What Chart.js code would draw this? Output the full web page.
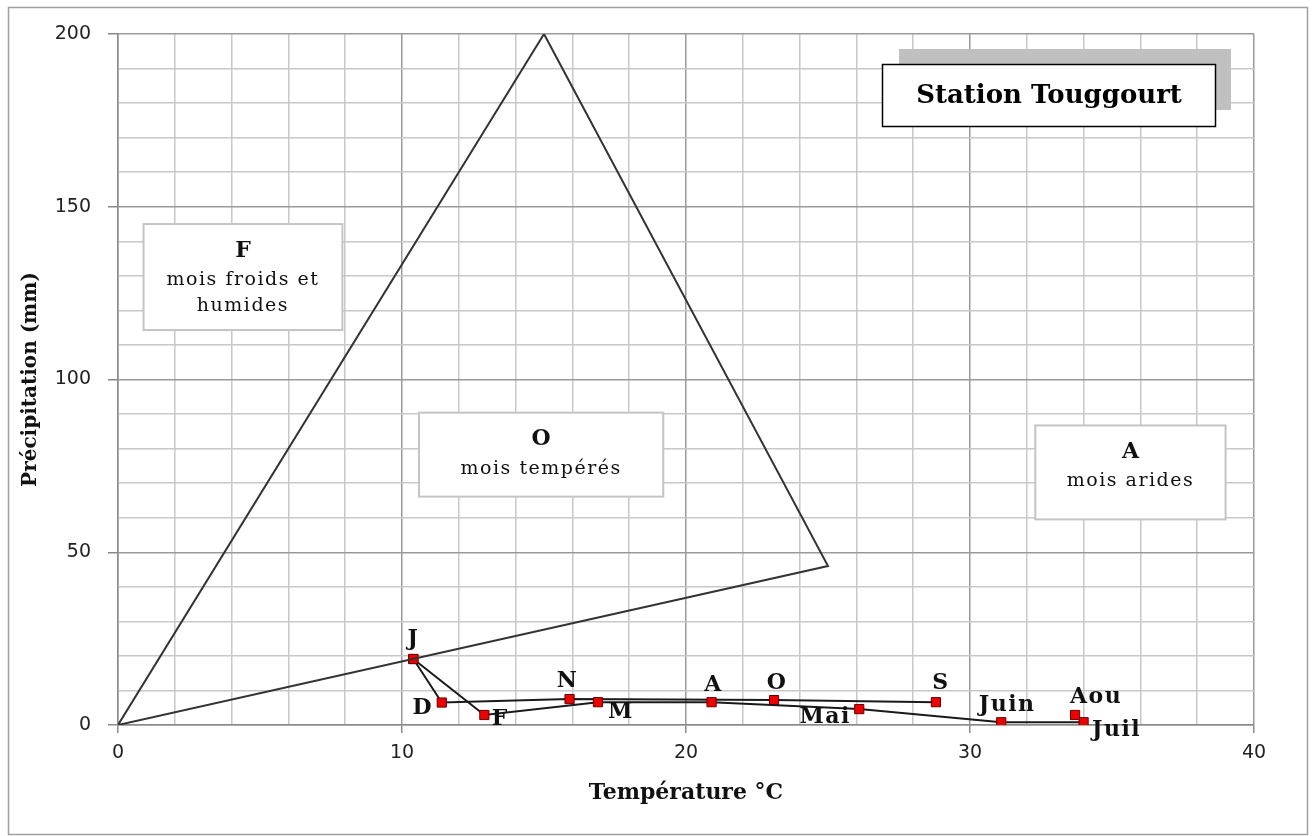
<!DOCTYPE html>
<html>
<head>
<meta charset="utf-8">
<script src="https://cdn.jsdelivr.net/npm/chart.js@4.4.0/dist/chart.umd.min.js"></script>
<style>
  html, body { margin: 0; padding: 0; background: #fff; }
  #wrap { width: 1316px; height: 836px; position: relative; }
</style>
</head>
<body>
<div id="wrap"><canvas id="climChart" width="1316" height="836"></canvas></div>
<script>
// monthly means, Touggourt station
var months = ['J', 'F', 'M', 'A', 'Mai', 'Juin', 'Juil', 'Aou', 'S', 'O', 'N', 'D'];
var temps = [10.4, 12.9, 16.9, 20.9, 26.1, 31.1, 34.0, 33.7, 28.8, 23.1, 15.9, 11.4];
var precip = [19.1, 2.9, 6.6, 6.6, 4.6, 0.8, 0.8, 2.9, 6.6, 7.2, 7.5, 6.5];

// zone limits (triangle of temperate months)
var triX = [0, 15, 25, 0];
var triY = [0, 200, 46, 0];

var xTicks = [0, 10, 20, 30, 40];
var yTicks = [0, 50, 100, 150, 200];

function pts(idx) {
    return idx.map(function (i) { return { x: temps[i], y: precip[i] }; });
}

// J..Aou, then S..D closing back on J
var pathA = pts([0, 1, 2, 3, 4, 5, 6, 7]);
var pathB = pts([8, 9, 10, 11, 0]);
var triangle = triX.map(function (x, i) { return { x: x, y: triY[i] }; });

var serif = '"DejaVu Serif", "Liberation Serif", serif';
var sans = '"DejaVu Sans", sans-serif';

// label offsets around each marker (px)
var labelOffset = {
    'J': [0, -20], 'F': [16, 4], 'M': [23, 10], 'A': [2, -17], 'Mai': [-34, 8],
    'Juin': [6, -17], 'Juil': [33, 8], 'Aou': [21, -18], 'S': [5, -19],
    'O': [3, -17], 'N': [-2, -18], 'D': [-19, 6]
};

var boxes = [
    { x0: 0.9, x1: 7.9, y0: 145, y1: 114.3, head: 'F', lines: ['mois froids et', 'humides'] },
    { x0: 10.6, x1: 19.2, y0: 90.4, y1: 66.1, head: 'O', lines: ['mois tempérés'] },
    { x0: 32.3, x1: 39.0, y0: 86.7, y1: 59.5, head: 'A', lines: ['mois arides'] }
];

var decorPlugin = {
    id: 'decor',
    beforeDraw: function (chart) {
        var c = chart.ctx;
        c.save();
        c.fillStyle = '#fff';
        c.fillRect(0, 0, chart.width, chart.height);
        c.strokeStyle = '#a0a0a0';
        c.lineWidth = 1.5;
        c.strokeRect(8.5, 7.5, 1299, 827);
        c.restore();
    },
    beforeDatasetsDraw: function (chart) {
        var c = chart.ctx;
        var xs = chart.scales.x, ys = chart.scales.y;
        c.save();
        boxes.forEach(function (b) {
            var l = xs.getPixelForValue(b.x0), r = xs.getPixelForValue(b.x1);
            var t = ys.getPixelForValue(b.y0), btm = ys.getPixelForValue(b.y1);
            c.fillStyle = '#fff';
            c.fillRect(l, t, r - l, btm - t);
            c.strokeStyle = '#c4c4c4';
            c.lineWidth = 2;
            c.strokeRect(l, t, r - l, btm - t);
            var cx = (l + r) / 2;
            c.fillStyle = '#111';
            c.textAlign = 'center';
            c.textBaseline = 'middle';
            c.letterSpacing = '0px';
            c.font = 'bold 22px ' + serif;
            c.fillText(b.head, cx, t + 27);
            c.font = '19px ' + serif;
            c.letterSpacing = '1.5px';
            b.lines.forEach(function (ln, i) {
                c.fillText(ln, cx, t + 56 + i * 26);
            });
            c.letterSpacing = '0px';
        });

        // station title with its shadow
        c.fillStyle = '#c0c0c0';
        c.fillRect(899, 49, 332, 61);
        c.fillStyle = '#fff';
        c.fillRect(882, 64, 333, 62);
        c.strokeStyle = '#000';
        c.lineWidth = 1.5;
        c.strokeRect(882.5, 64.5, 333, 62);
        c.fillStyle = '#000';
        c.font = 'bold 26px ' + serif;
        c.textAlign = 'center';
        c.textBaseline = 'middle';
        c.fillText('Station Touggourt', 1049, 96);
        c.restore();
    },
    afterDatasetsDraw: function (chart) {
        var c = chart.ctx;
        var xs = chart.scales.x, ys = chart.scales.y;
        c.save();
        c.fillStyle = '#111';
        c.font = 'bold 22px ' + serif;
        c.letterSpacing = '1.5px';
        c.textAlign = 'center';
        c.textBaseline = 'middle';
        months.forEach(function (m, i) {
            var off = labelOffset[m];
            c.fillText(m, xs.getPixelForValue(temps[i]) + off[0], ys.getPixelForValue(precip[i]) + off[1]);
        });
        c.letterSpacing = '0px';
        c.restore();
    }
};

var climStyle = {
    showLine: true,
    borderColor: '#1a1a1a',
    borderWidth: 2,
    pointStyle: 'rect',
    pointRadius: 6.5,
    pointBackgroundColor: '#ee0000',
    pointBorderColor: '#660000',
    pointBorderWidth: 1,
    tension: 0
};

var ctx = document.getElementById('climChart').getContext('2d');
var chart = new Chart(ctx, {
    type: 'scatter',
    data: {
        datasets: [
            {
                label: 'zones',
                data: triangle,
                showLine: true,
                borderColor: '#333',
                borderWidth: 2,
                pointRadius: 0,
                tension: 0
            },
            Object.assign({ label: 'climat', data: pathA }, climStyle),
            Object.assign({ label: 'climat2', data: pathB }, climStyle)
        ]
    },
    options: {
        responsive: false,
        animation: false,
        events: [],
        layout: { padding: { top: 34, right: 62, left: 10, bottom: 0 } },
        plugins: {
            legend: { display: false },
            tooltip: { enabled: false }
        },
        scales: {
            x: {
                type: 'linear',
                min: 0,
                max: 40,
                afterFit: function (s) { s.height = 111; },
                ticks: {
                    stepSize: 2,
                    autoSkip: false,
                    maxRotation: 0,
                    padding: 9,
                    color: '#222',
                    font: { family: sans, size: 19 },
                    callback: function (v) { return xTicks.indexOf(v) >= 0 ? v : ''; }
                },
                grid: {
                    color: function (c) { return c.tick && xTicks.indexOf(c.tick.value) >= 0 ? '#9a9a9a' : '#c8c8c8'; },
                    lineWidth: 1.5,
                    tickLength: 8,
                    tickColor: function (c) { return c.tick && xTicks.indexOf(c.tick.value) >= 0 ? '#888' : 'rgba(0,0,0,0)'; }
                },
                border: { color: '#8a8a8a', width: 1.5 },
                title: {
                    display: true,
                    text: 'Température °C',
                    color: '#111',
                    font: { family: serif, size: 22, weight: 'bold' },
                    padding: { top: 0, bottom: 30 }
                }
            },
            y: {
                type: 'linear',
                min: 0,
                max: 200,
                afterFit: function (s) { s.width = 108; },
                ticks: {
                    stepSize: 10,
                    autoSkip: false,
                    padding: 17,
                    color: '#222',
                    font: { family: sans, size: 19 },
                    callback: function (v) { return yTicks.indexOf(v) >= 0 ? v : ''; }
                },
                grid: {
                    color: function (c) { return c.tick && yTicks.indexOf(c.tick.value) >= 0 ? '#9a9a9a' : '#c8c8c8'; },
                    lineWidth: 1.5,
                    tickLength: 10,
                    tickColor: function (c) { return c.tick && yTicks.indexOf(c.tick.value) >= 0 ? '#888' : 'rgba(0,0,0,0)'; }
                },
                border: { color: '#8a8a8a', width: 1.5 },
                title: {
                    display: true,
                    text: 'Précipitation (mm)',
                    color: '#111',
                    font: { family: serif, size: 20, weight: 'bold' },
                    padding: { top: 9, bottom: 0 }
                }
            }
        }
    },
    plugins: [decorPlugin]
});
</script>
</body>
</html>
